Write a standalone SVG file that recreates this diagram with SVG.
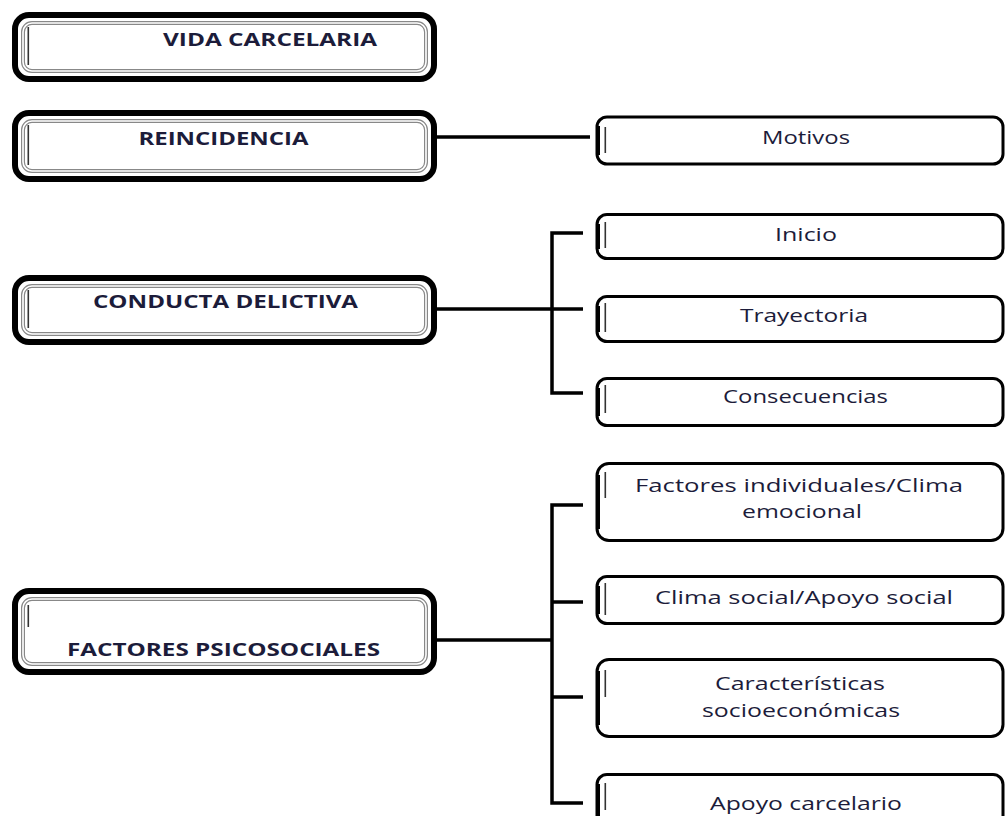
<svg xmlns="http://www.w3.org/2000/svg" width="1006" height="816" viewBox="0 0 1006 816">
<style>
.bg{fill:#ffffff}
.lo{fill:#fff;stroke:#000;stroke-width:6}
.li1{fill:none;stroke:#888;stroke-width:4}
.li2{fill:none;stroke:#fff;stroke-width:1.6}
.ro{fill:#fff;stroke:#000;stroke-width:3}
.rl{stroke:#000;stroke-width:3;fill:none}
.bar{fill:#333}
.conn{fill:none;stroke:#000;stroke-width:3.5}
.lt{font-family:"Open Sans","Liberation Sans",sans-serif;font-weight:700;font-size:18px;fill:#1c1c3a;text-anchor:middle}
.rt{font-family:"Open Sans","Liberation Sans",sans-serif;font-size:19px;fill:#1c1c3a;text-anchor:middle}
</style>
<rect class="bg" width="1006" height="816"/>
<g id="connectors">
<path class="conn" d="M437 137H590"/>
<path class="conn" d="M437 309H583"/>
<path class="conn" d="M583 233H552V393H583"/>
<path class="conn" d="M437 640H552"/>
<path class="conn" d="M583 505H552V803H583"/>
<path class="conn" d="M552 602H583"/>
<path class="conn" d="M552 697H583"/>
</g>
<g id="vida">
<rect class="lo" x="15" y="15" width="419" height="64" rx="14"/>
<rect class="li1" x="23" y="23" width="403" height="48" rx="9"/>
<rect class="li2" x="23" y="23" width="403" height="48" rx="9"/>
<rect class="bar" x="27.5" y="27" width="1.6" height="38"/>
<text class="lt" x="270" y="46" textLength="214" lengthAdjust="spacingAndGlyphs">VIDA CARCELARIA</text>
</g>
<g id="reincidencia">
<rect class="lo" x="15" y="113" width="419" height="66" rx="14"/>
<rect class="li1" x="23" y="121" width="403" height="50" rx="9"/>
<rect class="li2" x="23" y="121" width="403" height="50" rx="9"/>
<rect class="bar" x="27.5" y="125" width="1.6" height="40"/>
<text class="lt" x="223.5" y="145" textLength="170" lengthAdjust="spacingAndGlyphs">REINCIDENCIA</text>
</g>
<g id="conducta">
<rect class="lo" x="15" y="278" width="419" height="64" rx="14"/>
<rect class="li1" x="23" y="286" width="403" height="48" rx="9"/>
<rect class="li2" x="23" y="286" width="403" height="48" rx="9"/>
<rect class="bar" x="27.5" y="290" width="1.6" height="38"/>
<text class="lt" x="225.5" y="308" textLength="265" lengthAdjust="spacingAndGlyphs">CONDUCTA DELICTIVA</text>
</g>
<g id="factores">
<rect class="lo" x="15" y="591" width="419" height="81" rx="14"/>
<rect class="li1" x="23" y="599" width="403" height="65" rx="9"/>
<rect class="li2" x="23" y="599" width="403" height="65" rx="9"/>
<rect class="bar" x="27.5" y="605" width="1.6" height="22"/>
<text class="lt" x="223.5" y="656" textLength="313" lengthAdjust="spacingAndGlyphs">FACTORES PSICOSOCIALES</text>
</g>
<g id="motivos">
<rect class="ro" x="597" y="117" width="406" height="47" rx="10"/>
<path class="rl" d="M598.5 126V155"/>
<rect class="bar" x="604.5" y="127" width="1.6" height="26"/>
<text class="rt" x="806" y="144" textLength="88" lengthAdjust="spacingAndGlyphs">Motivos</text>
</g>
<g id="inicio">
<rect class="ro" x="597" y="214.5" width="406" height="44" rx="10"/>
<path class="rl" d="M598.5 224V249"/>
<rect class="bar" x="604.5" y="222" width="1.6" height="26"/>
<text class="rt" x="806" y="241" textLength="62" lengthAdjust="spacingAndGlyphs">Inicio</text>
</g>
<g id="trayectoria">
<rect class="ro" x="597" y="296.5" width="406" height="45" rx="10"/>
<path class="rl" d="M598.5 306V332"/>
<rect class="bar" x="604.5" y="303" width="1.6" height="29"/>
<text class="rt" x="804" y="322" textLength="128" lengthAdjust="spacingAndGlyphs">Trayectoria</text>
</g>
<g id="consecuencias">
<rect class="ro" x="597" y="378.5" width="406" height="47" rx="10"/>
<path class="rl" d="M598.5 388V416"/>
<rect class="bar" x="604.5" y="385" width="1.6" height="28"/>
<text class="rt" x="805.5" y="403" textLength="165" lengthAdjust="spacingAndGlyphs">Consecuencias</text>
</g>
<g id="individuales">
<rect class="ro" x="597" y="463.5" width="406" height="77" rx="12"/>
<path class="rl" d="M598.5 475V529"/>
<rect class="bar" x="604.5" y="472" width="1.6" height="26"/>
<text class="rt" x="799" y="492" textLength="328" lengthAdjust="spacingAndGlyphs">Factores individuales/Clima</text>
<text class="rt" x="802" y="518" textLength="120" lengthAdjust="spacingAndGlyphs">emocional</text>
</g>
<g id="clima">
<rect class="ro" x="597" y="576.5" width="406" height="47" rx="10"/>
<path class="rl" d="M598.5 586V614"/>
<rect class="bar" x="604.5" y="583" width="1.6" height="32"/>
<text class="rt" x="804" y="604" textLength="298" lengthAdjust="spacingAndGlyphs">Clima social/Apoyo social</text>
</g>
<g id="caracteristicas">
<rect class="ro" x="597" y="659.5" width="406" height="77" rx="12"/>
<path class="rl" d="M598.5 671V725"/>
<rect class="bar" x="604.5" y="670" width="1.6" height="27"/>
<text class="rt" x="800" y="690" textLength="170" lengthAdjust="spacingAndGlyphs">Características</text>
<text class="rt" x="801" y="717" textLength="198" lengthAdjust="spacingAndGlyphs">socioeconómicas</text>
</g>
<g id="apoyo">
<rect class="ro" x="597" y="774.5" width="406" height="60" rx="10"/>
<path class="rl" d="M598.5 784V816"/>
<rect class="bar" x="604.5" y="783" width="1.6" height="27"/>
<text class="rt" x="806" y="810" textLength="192" lengthAdjust="spacingAndGlyphs">Apoyo carcelario</text>
</g>
</svg>
